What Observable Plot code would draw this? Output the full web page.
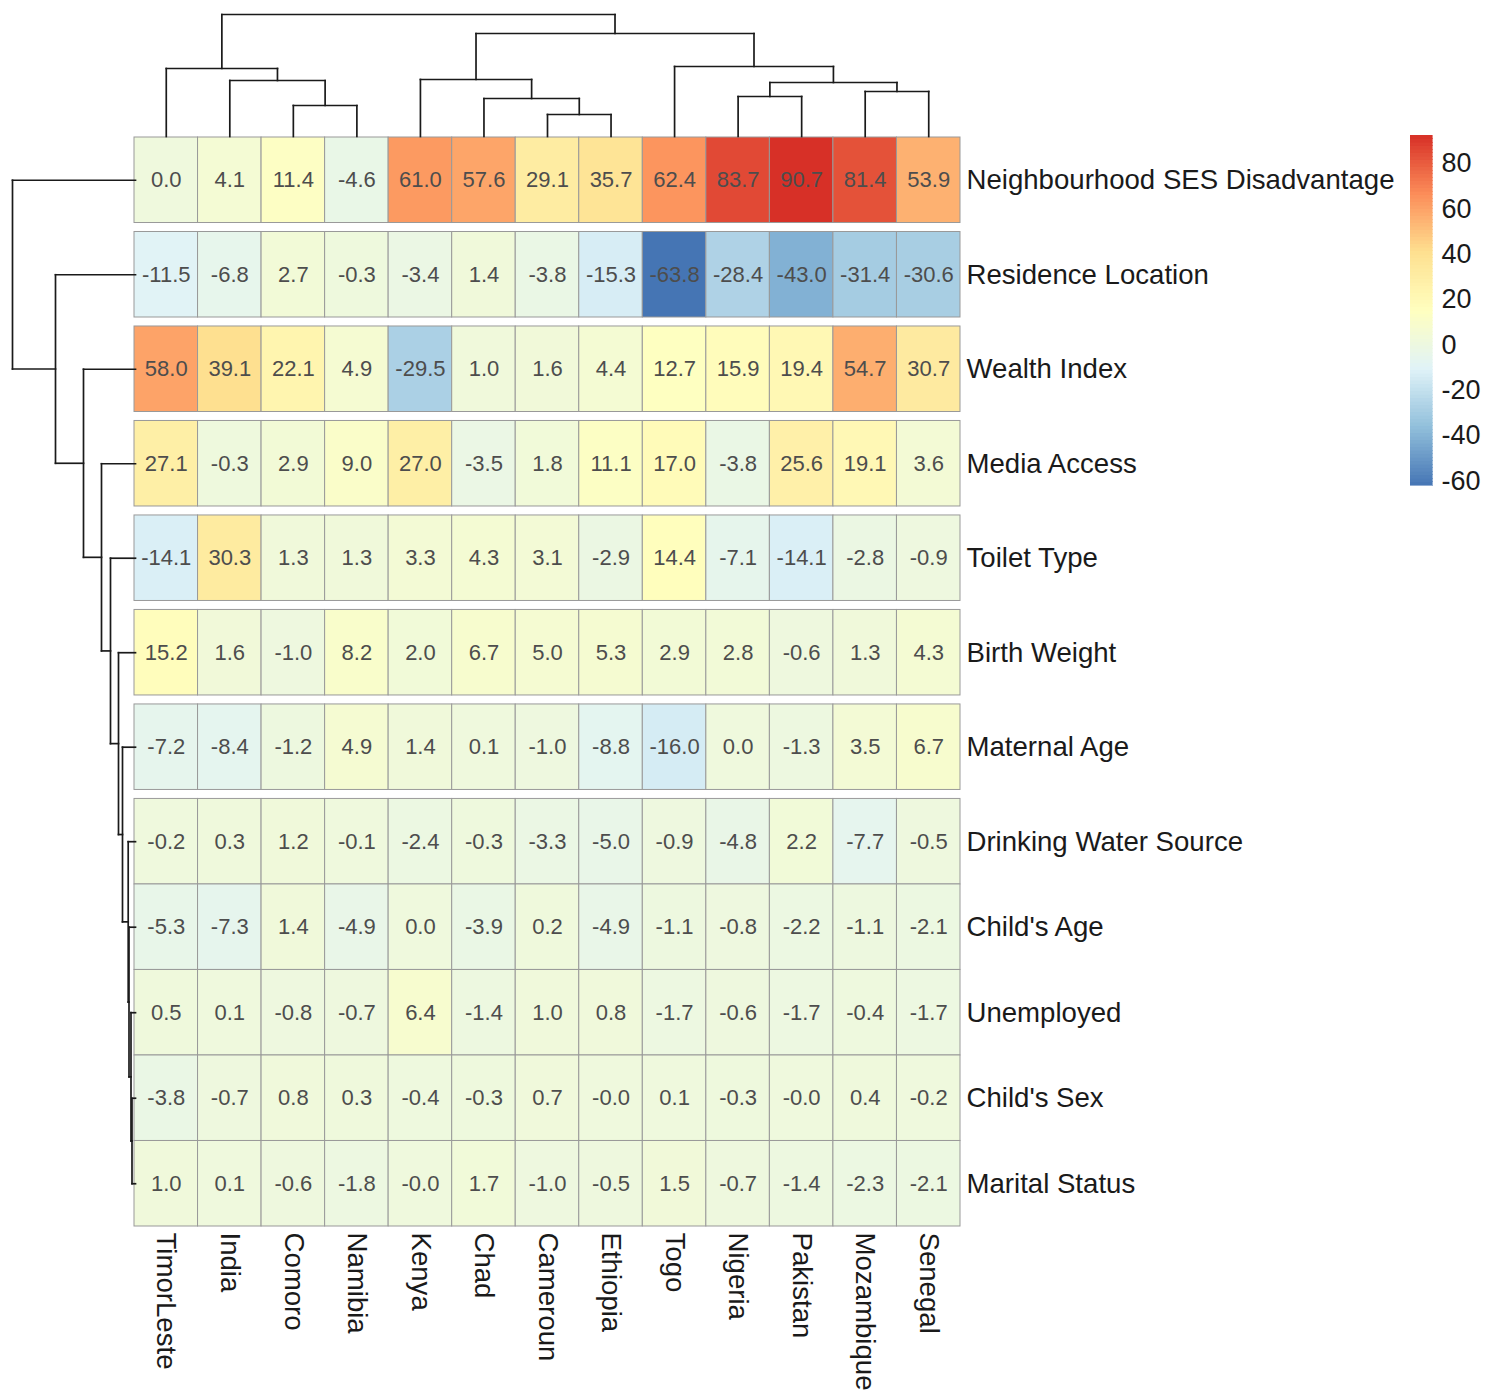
<!DOCTYPE html>
<html><head><meta charset="utf-8">
<script src="https://cdn.jsdelivr.net/npm/d3@7"></script>
<script src="https://cdn.jsdelivr.net/npm/@observablehq/plot@0.6"></script>
<style>
body{margin:0;background:#fff;}
#chart{position:relative;width:1487px;height:1393px;font-family:"Liberation Sans",Arial,sans-serif;}
#chart svg{position:absolute;left:0;top:0;}
</style></head><body><div id="chart"></div>
<script>
// ---------- data ----------
const countries = ["TimorLeste","India","Comoro","Namibia","Kenya","Chad","Cameroun","Ethiopia","Togo","Nigeria","Pakistan","Mozambique","Senegal"];
const rowNames = ["Neighbourhood SES Disadvantage","Residence Location","Wealth Index","Media Access","Toilet Type","Birth Weight","Maternal Age","Drinking Water Source","Child's Age","Unemployed","Child's Sex","Marital Status"];
const rowCluster = [1,2,3,4,5,6,7,8,8,8,8,8];

const neighbourhoodSES = [0.0, 4.1, 11.4, -4.6, 61.0, 57.6, 29.1, 35.7, 62.4, 83.7, 90.7, 81.4, 53.9];
const residenceLocation = [-11.5, -6.8, 2.7, -0.3, -3.4, 1.4, -3.8, -15.3, -63.8, -28.4, -43.0, -31.4, -30.6];
const wealthIndex = [58.0, 39.1, 22.1, 4.9, -29.5, 1.0, 1.6, 4.4, 12.7, 15.9, 19.4, 54.7, 30.7];
const mediaAccess = [27.1, -0.3, 2.9, 9.0, 27.0, -3.5, 1.8, 11.1, 17.0, -3.8, 25.6, 19.1, 3.6];
const toiletType = [-14.1, 30.3, 1.3, 1.3, 3.3, 4.3, 3.1, -2.9, 14.4, -7.1, -14.1, -2.8, -0.9];
const birthWeight = [15.2, 1.6, -1.0, 8.2, 2.0, 6.7, 5.0, 5.3, 2.9, 2.8, -0.6, 1.3, 4.3];
const maternalAge = [-7.2, -8.4, -1.2, 4.9, 1.4, 0.1, -1.0, -8.8, -16.0, 0.0, -1.3, 3.5, 6.7];
const drinkingWater = [-0.2, 0.3, 1.2, -0.1, -2.4, -0.3, -3.3, -5.0, -0.9, -4.8, 2.2, -7.7, -0.5];
const childsAge = [-5.3, -7.3, 1.4, -4.9, 0.0, -3.9, 0.2, -4.9, -1.1, -0.8, -2.2, -1.1, -2.1];
const unemployed = [0.5, 0.1, -0.8, -0.7, 6.4, -1.4, 1.0, 0.8, -1.7, -0.6, -1.7, -0.4, -1.7];
const childsSex = [-3.8, -0.7, 0.8, 0.3, -0.4, -0.3, 0.7, -0.01, 0.1, -0.3, -0.01, 0.4, -0.2];
const maritalStatus = [1.0, 0.1, -0.6, -1.8, -0.01, 1.7, -1.0, -0.5, 1.5, -0.7, -1.4, -2.3, -2.1];
const rowSeries = [neighbourhoodSES, residenceLocation, wealthIndex, mediaAccess, toiletType, birthWeight, maternalAge, drinkingWater, childsAge, unemployed, childsSex, maritalStatus];

// hierarchical merges: [left, right, height]; numbers refer to earlier merges (1-based)
const colMerges = [
  ["Cameroun","Ethiopia",22], ["Comoro","Namibia",31], ["Chad",1,38], ["Nigeria","Pakistan",40],
  ["Mozambique","Senegal",45], [4,5,54], ["India",2,56], ["Kenya",3,57], ["TimorLeste",7,68],
  ["Togo",6,70], [8,10,103], [9,11,122]
];
const rowMerges = [
  ["Child's Sex","Marital Status",3.5], ["Unemployed",1,4.5], ["Child's Age",2,6.5],
  ["Drinking Water Source",3,7.3], ["Maternal Age",4,13], ["Birth Weight",5,17],
  ["Toilet Type",6,25], ["Media Access",7,34], ["Wealth Index",8,52],
  ["Residence Location",9,80], ["Neighbourhood SES Disadvantage",10,123]
];
const legendTicks = [-60,-40,-20,0,20,40,60,80];
const palette = ["#4575B4","#91BFDB","#E0F3F8","#FFFFBF","#FEE090","#FC8D59","#D73027"];

// ---------- layout ----------
const W = 1487, H = 1393;
const FONT = '"Liberation Sans", Arial, sans-serif';
const gap = 0.105;
const rowTop = rowCluster.map((c, i) => i + (c - 1) * gap);
const yMax = rowTop[rowTop.length - 1] + 1;

const cells = [];
rowSeries.forEach((vals, i) => vals.forEach((v, j) => cells.push({row: rowNames[i], col: countries[j], ci: j, top: rowTop[i], v})));
const vMin = d3.min(cells, d => d.v), vMax = d3.max(cells, d => d.v);
const colorScale = {type: "linear", domain: [vMin, vMax], interpolate: d3.piecewise(d3.interpolateRgb, palette)};

const xHeat = {domain: [0, countries.length], range: [134, 960], axis: null};
const yHeat = {domain: [0, yMax], range: [137, 1226], axis: null};
const baseStyle = {background: "transparent", fontFamily: FONT, overflow: "visible"};

function dendroSegments(merges, leafPos) {
  const nodes = [], segs = [];
  const get = k => typeof k === "number" ? nodes[k - 1] : {pos: leafPos(k), h: 0};
  for (const [a, b, h] of merges) {
    const A = get(a), B = get(b);
    segs.push({p1: A.pos, h1: A.h, p2: A.pos, h2: h});
    segs.push({p1: A.pos, h1: h, p2: B.pos, h2: h});
    segs.push({p1: B.pos, h1: h, p2: B.pos, h2: B.h});
    nodes.push({pos: (A.pos + B.pos) / 2, h});
  }
  return segs;
}

const chart = document.getElementById("chart");

// heatmap
chart.append(Plot.plot({
  width: W, height: H, style: baseStyle,
  x: xHeat, y: yHeat, color: colorScale,
  marks: [
    Plot.rect(cells, {x1: d => d.ci, x2: d => d.ci + 1, y1: d => d.top, y2: d => d.top + 1, fill: d => d.v, stroke: "#999999", strokeWidth: 1}),
    Plot.text(cells, {x: d => d.ci + 0.5, y: d => d.top + 0.5, text: d => d.v.toFixed(1), fill: "#4D4D4D", fontSize: 22}),
    Plot.text(rowNames, {x: countries.length, y: (d, i) => rowTop[i] + 0.5, text: d => d, textAnchor: "start", dx: 6, fontSize: 27.6, fill: "#1a1a1a"}),
    Plot.text(countries, {x: (d, i) => i + 0.5, y: yMax, text: d => d, rotate: 90, textAnchor: "start", dy: 6, fontSize: 27.6, fill: "#1a1a1a"})
  ]
}));

// column dendrogram
const colSegs = dendroSegments(colMerges, name => countries.indexOf(name) + 0.5);
chart.append(Plot.plot({
  width: W, height: H, style: baseStyle,
  x: xHeat, y: {domain: [0, d3.max(colMerges, d => d[2])], range: [136, 14], axis: null},
  marks: [
    Plot.link(colSegs, {x1: "p1", y1: "h1", x2: "p2", y2: "h2", stroke: "#1a1a1a", strokeWidth: 1.7, strokeLinecap: "square"})
  ]
}));

// row dendrogram
const rowSegs = dendroSegments(rowMerges, name => rowTop[rowNames.indexOf(name)] + 0.5);
chart.append(Plot.plot({
  width: W, height: H, style: baseStyle,
  x: {domain: [0, d3.max(rowMerges, d => d[2])], range: [135, 12], axis: null}, y: yHeat,
  marks: [
    Plot.link(rowSegs, {x1: "h1", y1: "p1", x2: "h2", y2: "p2", stroke: "#1a1a1a", strokeWidth: 1.7, strokeLinecap: "square"})
  ]
}));

// legend
const slices = d3.range(100).map(i => ({lo: vMin + i * (vMax - vMin) / 100, hi: vMin + (i + 1) * (vMax - vMin) / 100}));
chart.append(Plot.plot({
  width: W, height: H, style: baseStyle,
  x: {domain: [0, 1], range: [1410, 1432], axis: null},
  y: {domain: [vMin, vMax], range: [485, 135], axis: null},
  color: colorScale,
  marks: [
    Plot.rect(slices, {x1: 0, x2: 1, y1: "lo", y2: "hi", fill: d => (d.lo + d.hi) / 2, stroke: d => (d.lo + d.hi) / 2, strokeWidth: 0.6, shapeRendering: "crispEdges"}),
    Plot.text(legendTicks, {x: 1, y: d => d, text: d => String(d), textAnchor: "start", dx: 9, dy: 4, fontSize: 27, fill: "#1a1a1a"})
  ]
}));
</script></body></html>
